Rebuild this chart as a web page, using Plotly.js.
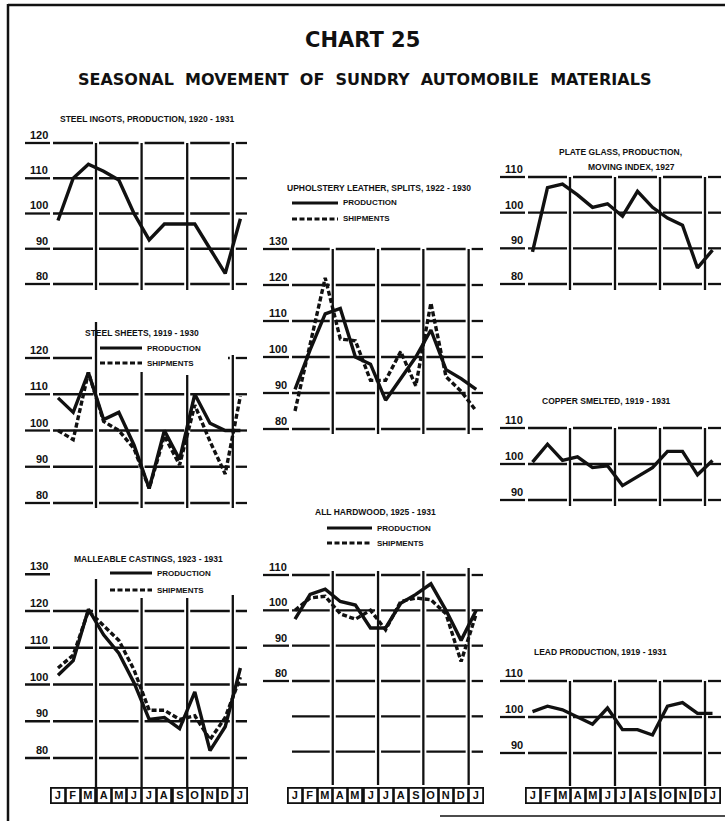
<!DOCTYPE html>
<html><head><meta charset="utf-8">
<script src="https://cdn.plot.ly/plotly-3.0.1.min.js"></script>
<style>html,body{margin:0;padding:0;background:#fff}</style>
</head><body><div id="chart" style="width:725px;height:821px"></div>
<script>
// ---------------- DATA ----------------
const months = ['J','F','M','A','M','J','J','A','S','O','N','D','J'];
const steelIngotsProduction = [98, 110, 114, 112, 109.5, 100, 92.5, 97, 97, 97, 90, 83, 98.5];
const steelSheetsProduction = [109, 105, 116, 103, 105, 96, 84, 100, 92, 110, 102, 100, 100];
const steelSheetsShipments  = [100, 97.5, 116, 102.5, 100, 95, 84, 98.5, 90.5, 107, 97, 88, 109.5];
const malleableProduction   = [102.5, 106.5, 120.5, 113.5, 108.5, 100.5, 90.5, 91, 88, 98, 82, 88.5, 104.5];
const malleableShipments    = [104.5, 108, 120, 116, 112, 104, 93, 93, 90.5, 91.5, 85, 91, 102];
const upholsteryProduction  = [91, 102, 112, 113.5, 100, 98, 88, 94, 100, 107.5, 96.5, 94, 91];
const upholsteryShipments   = [85, 104, 122, 105, 104.5, 93.5, 93.5, 101.5, 92, 115, 94.5, 90.5, 85];
const hardwoodProduction    = [97.5, 104.5, 106, 102.5, 101.5, 95, 95, 102, 104.5, 107.5, 100, 91.5, 100];
const hardwoodShipments     = [100, 103.5, 104, 99, 97.5, 100, 94.5, 102.5, 103.5, 103, 99, 85.5, 99];
const plateGlassProduction  = [89, 107, 108, 105, 101.5, 102.5, 99, 106, 101.5, 98.5, 96.5, 84.5, 89.5];
const copperSmelted         = [100.5, 105.5, 101, 102, 99, 99.5, 94, 96.5, 99, 103.5, 103.5, 97, 101];
const leadProduction        = [101.5, 103, 102, 100, 98, 102.5, 96.5, 96.5, 95, 103, 104, 101, 101];
const ticks120 = [120, 110, 100, 90, 80];
const ticks130 = [130, 120, 110, 100, 90, 80];
const ticks110 = [110, 100, 90, 80];
const ticks110short = [110, 100, 90];
const blankHardwood = [70, 60];
const quarterBreaks = [2.5, 5.5, 8.5, 11.5];
const legendLabels = ['PRODUCTION', 'SHIPMENTS'];

// ---------------- LAYOUT GEOMETRY ----------------
const W = 725, H = 821;
const cols = {
  L: {gl: 25,  gr: 247, m0: 58,    step: 15.2, labR: 50},
  M: {gl: 263, gr: 483, m0: 295,   step: 15.1, labR: 289},
  R: {gl: 500, gr: 721, m0: 532.5, step: 15.0, labR: 525}
};
const panels = [
  {col:'L', levels:ticks120, vA:120, pA:143, vB:80, pB:284, vTops:[143,143,143,143], vBot:290,
   series:[[steelIngotsProduction,'solid']],
   titles:[['STEEL INGOTS, PRODUCTION, 1920 - 1931',147,119]]},
  {col:'L', levels:ticks120, vA:120, pA:358, vB:80, pB:503, vTops:[322,372,375,355], vBot:508,
   cuts:{120:[[92,228]]},
   series:[[steelSheetsProduction,'solid'],[steelSheetsShipments,'dash']],
   titles:[['STEEL SHEETS, 1919 - 1930',142,333]], legend:{x1:100,x2:142,y1:348,y2:363}},
  {col:'L', levels:ticks130, vA:120, pA:611, vB:80, pB:758, vTops:[579,598,598,595], vBot:787,
   noMain:[130],
   series:[[malleableProduction,'solid'],[malleableShipments,'dash']],
   titles:[['MALLEABLE CASTINGS, 1923 - 1931',148,559]], legend:{x1:110,x2:152,y1:573,y2:590}},
  {col:'M', levels:ticks130, vA:130, pA:249, vB:80, pB:429, vTops:[249,249,249,249], vBot:434,
   series:[[upholsteryProduction,'solid'],[upholsteryShipments,'dash']],
   titles:[['UPHOLSTERY LEATHER, SPLITS, 1922 - 1930',379,188]], legend:{x1:292,x2:338,y1:203,y2:219}},
  {col:'M', levels:ticks110, blank:blankHardwood, vA:110, pA:575, vB:80, pB:681, vTops:[571,571,571,568], vBot:785,
   series:[[hardwoodProduction,'solid'],[hardwoodShipments,'dash']],
   titles:[['ALL HARDWOOD, 1925 - 1931',375,512]], legend:{x1:327,x2:372,y1:528,y2:543}},
  {col:'R', levels:ticks110, vA:110, pA:177, vB:80, pB:284, vTops:[177,177,177,177], vBot:290,
   series:[[plateGlassProduction,'solid']],
   titles:[['PLATE GLASS, PRODUCTION,',620,152],['MOVING INDEX, 1927',631,167]]},
  {col:'R', levels:ticks110short, vA:110, pA:428, vB:90, pB:500, vTops:[428,428,428,428], vBot:506,
   series:[[copperSmelted,'solid']],
   titles:[['COPPER SMELTED, 1919 - 1931',606,401]]},
  {col:'R', levels:ticks110short, vA:110, pA:681, vB:90, pB:753, vTops:[681,681,681,681], vBot:786,
   series:[[leadProduction,'solid']],
   titles:[['LEAD PRODUCTION, 1919 - 1931',600,652]]}
];
const boxRowPanel = {L: 3, M: 5, R: 8};
const boxY = 795;

const INK = '#111';
const smallFont = 'Liberation Sans, Arial, sans-serif';
const bigFont = 'DejaVu Sans, Liberation Sans, sans-serif';
const gridW = 2.3, dataW = 3.4;
const dashStyle = '5px,2.5px';

const layout = {
  width: W, height: H, margin: {l:0, r:0, t:0, b:0},
  paper_bgcolor: '#fff', plot_bgcolor: 'rgba(0,0,0,0)', showlegend: false,
  shapes: [], annotations: []
};
const data = [];

function segs(start, end, gaps) {
  gaps = gaps.slice().sort((a, b) => a[0] - b[0]);
  const out = []; let s = start;
  gaps.forEach(([a, b]) => {
    if (b <= s || a >= end) return;
    if (a > s + 1) out.push([s, a]);
    s = Math.max(s, b);
  });
  if (end > s + 1) out.push([s, end]);
  return out;
}

panels.forEach((p, i) => {
  const k = i + 1, sx = k === 1 ? '' : String(k);
  const c = cols[p.col];
  const xd = px => (px - c.m0) / c.step;
  const yd = py => p.vA - (py - p.pA) * (p.vA - p.vB) / (p.pB - p.pA);
  const yp = v => p.pA + (p.vA - v) * (p.pB - p.pA) / (p.vA - p.vB);
  const dTop = Math.min(...p.vTops, yp(p.levels[0])) - 6;
  const dBot = p.vBot + 6;
  layout['xaxis' + sx] = {domain: [(c.gl - 3) / W, (c.gr + 3) / W], range: [xd(c.gl - 3), xd(c.gr + 3)],
    visible: false, fixedrange: true, anchor: 'y' + sx};
  layout['yaxis' + sx] = {domain: [1 - dBot / H, 1 - dTop / H], range: [yd(dBot), yd(dTop)],
    visible: false, fixedrange: true, anchor: 'x' + sx};
  const xr = 'x' + sx, yr = 'y' + sx;
  const vxs = quarterBreaks.map(b => c.m0 + b * c.step);
  const vGaps = vxs.map(v => [v - 3, v + 3]);
  const hl = (v, a, b) => layout.shapes.push({type:'line', xref:xr, yref:yr, x0:xd(a), x1:xd(b), y0:v, y1:v,
    line:{color:INK, width:gridW}});
  p.levels.forEach(v => {
    hl(v, c.gl, c.labR);
    if (!(p.noMain || []).includes(v)) {
      const cut = (p.cuts && p.cuts[v]) || [];
      segs(c.labR + 3, c.gr, vGaps.concat(cut)).forEach(([a, b]) => hl(v, a, b));
    }
    layout.annotations.push({xref:'paper', yref:yr, x:(c.labR - 1) / W, y:v, xanchor:'right', yanchor:'bottom',
      text:'<b>' + v + '</b>', showarrow:false, borderpad:0, yshift:1,
      font:{family:smallFont, size:11, color:INK}});
  });
  (p.blank || []).forEach(v => {
    segs(c.labR + 3, c.gr, vGaps).forEach(([a, b]) => hl(v, a, b));
  });
  quarterBreaks.forEach((b, j) => {
    layout.shapes.push({type:'line', xref:xr, yref:yr, x0:b, x1:b, y0:yd(p.vTops[j]), y1:yd(p.vBot),
      line:{color:INK, width:gridW}});
  });
  p.series.forEach(([vals, dash]) => {
    data.push({type:'scatter', mode:'lines', x:months.map((m, idx) => idx), y:vals, xaxis:xr, yaxis:yr,
      line:{color:INK, width:dataW, dash: dash === 'dash' ? dashStyle : 'solid'}, hoverinfo:'skip'});
  });
  p.titles.forEach(([t, tx, ty]) => {
    layout.annotations.push({xref:'paper', yref:'paper', x:tx / W, y:1 - ty / H, text:'<b>' + t + '</b>',
      showarrow:false, xanchor:'center', yanchor:'middle', font:{family:smallFont, size:8.5, color:INK}});
  });
  if (p.legend) {
    const L = p.legend;
    [[L.y1, 'solid'], [L.y2, dashStyle]].forEach(([ly, d], j) => {
      layout.shapes.push({type:'line', xref:'paper', yref:'paper', x0:L.x1 / W, x1:L.x2 / W, y0:1 - ly / H, y1:1 - ly / H,
        line:{color:INK, width:3, dash:d}});
      layout.annotations.push({xref:'paper', yref:'paper', x:(L.x2 + 3) / W, y:1 - ly / H, xanchor:'left', yanchor:'middle',
        text:'<b>' + legendLabels[j] + '</b>', showarrow:false, font:{family:smallFont, size:8, color:INK}});
    });
  }
});

// month boxes
Object.keys(boxRowPanel).forEach(ck => {
  const k = boxRowPanel[ck], sx = k === 1 ? '' : String(k);
  months.forEach((m, idx) => {
    layout.annotations.push({xref:'x' + sx, yref:'paper', x:idx, y:1 - boxY / H, text:'<b>' + m + '</b>',
      showarrow:false, xanchor:'center', yanchor:'middle', width:11, height:12, borderpad:0.5,
      bordercolor:INK, borderwidth:1.8, bgcolor:'#fff', font:{family:smallFont, size:11, color:INK}});
  });
});

// main titles
layout.annotations.push({xref:'paper', yref:'paper', x:0.5, y:1 - 40 / H, text:'<b>CHART 25</b>', showarrow:false,
  xanchor:'center', yanchor:'middle', font:{family:bigFont, size:21, color:INK}});
layout.annotations.push({xref:'paper', yref:'paper', x:0.503, y:1 - 80 / H,
  text:'<b>SEASONAL  MOVEMENT  OF  SUNDRY  AUTOMOBILE  MATERIALS</b>', showarrow:false,
  xanchor:'center', yanchor:'middle', font:{family:bigFont, size:16, color:INK}});

// frame
layout.shapes.push({type:'line', xref:'paper', yref:'paper', x0:8 / W, x1:8 / W, y0:1 - 4 / H, y1:0, line:{color:INK, width:2.5}});
layout.shapes.push({type:'line', xref:'paper', yref:'paper', x0:8 / W, x1:1, y0:1 - 5 / H, y1:1 - 5 / H, line:{color:INK, width:2.5}});
layout.shapes.push({type:'line', xref:'paper', yref:'paper', x0:440 / W, x1:1, y0:1 - 816 / H, y1:1 - 816 / H, line:{color:INK, width:1.5}});

Plotly.newPlot('chart', data, layout, {staticPlot:true, displayModeBar:false});
</script>
</body></html>
